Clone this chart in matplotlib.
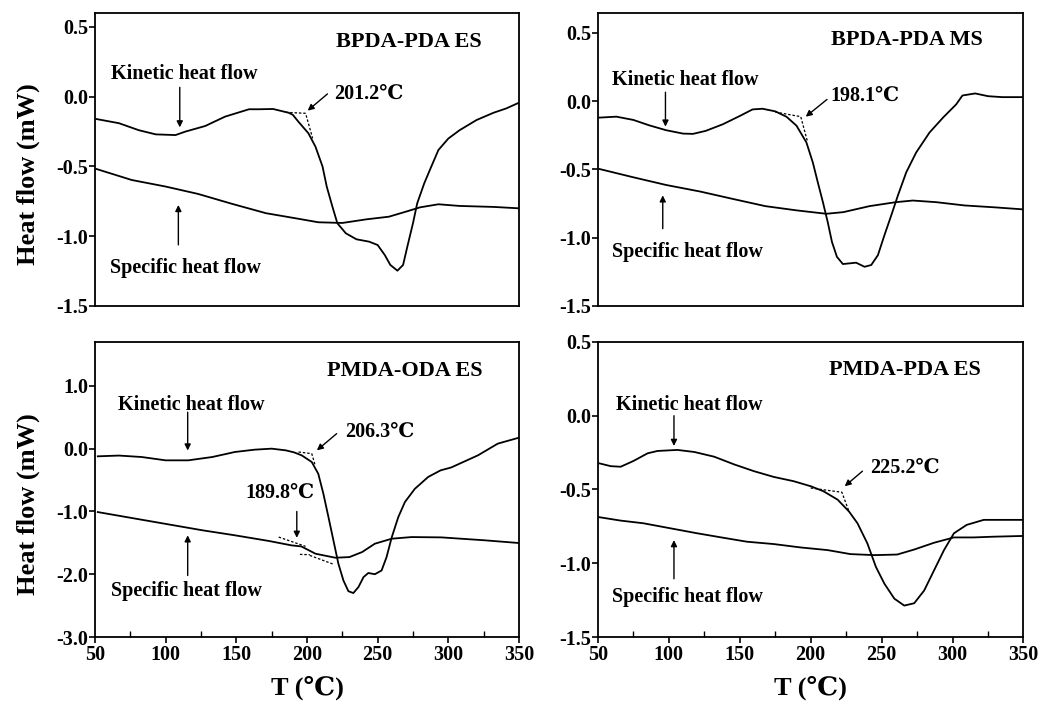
import matplotlib
matplotlib.use('Agg')
import matplotlib.pyplot as plt
from matplotlib.ticker import MultipleLocator, FixedLocator, FixedFormatter

plt.rcParams['font.family'] = ['Liberation Serif', 'DejaVu Serif', 'DejaVu Sans']
plt.rcParams['font.weight'] = 'bold'

# BPDA-PDA ES
a_kin_T = [51, 67, 81, 93, 107, 114, 128, 142, 159, 166, 176, 187, 190, 194, 201, 206, 211, 214,
           218, 221.5, 227.5, 235, 244, 250, 255, 259, 264, 268, 271, 275, 278, 283, 288, 293,
           300, 308, 320, 332, 341, 350]
a_kin = [-0.16, -0.19, -0.24, -0.27, -0.275, -0.25, -0.21, -0.143, -0.09, -0.09, -0.088, -0.115,
         -0.13, -0.18, -0.262, -0.358, -0.50, -0.645, -0.788, -0.907, -0.979, -1.022, -1.039,
         -1.063, -1.134, -1.206, -1.247, -1.206, -1.075, -0.907, -0.764, -0.62, -0.50, -0.382,
         -0.30, -0.24, -0.167, -0.115, -0.084, -0.043]
a_spec_T = [51, 76, 100, 123, 147, 171, 194, 208, 225, 242, 258, 270, 280, 293, 308, 332, 350]
a_spec = [-0.518, -0.597, -0.644, -0.697, -0.768, -0.835, -0.875, -0.90, -0.905, -0.879, -0.86,
          -0.824, -0.793, -0.771, -0.783, -0.79, -0.80]
a_tan_T = [185, 199, 204]
a_tan = [-0.112, -0.119, -0.298]

# BPDA-PDA MS
b_kin_T = [51, 63, 75, 86, 98, 110, 117, 126, 138, 150, 159, 166, 175, 183, 190, 197, 201.5,
           205, 208.6, 212, 215, 218.5, 222.7, 227.4, 232, 238, 242.7, 247.4, 252, 256.8, 261.5,
           267.4, 274.4, 283.8, 293.3, 302.6, 307, 316, 325, 335, 350]
b_kin = [-0.121, -0.114, -0.138, -0.177, -0.213, -0.238, -0.24, -0.218, -0.17, -0.109, -0.061,
         -0.056, -0.075, -0.115, -0.18, -0.303, -0.449, -0.594, -0.739, -0.885, -1.031, -1.14,
         -1.193, -1.188, -1.183, -1.213, -1.2, -1.128, -0.982, -0.837, -0.691, -0.521, -0.376,
         -0.23, -0.121, -0.024, 0.041, 0.056, 0.036, 0.029, 0.029]
b_spec_T = [51, 75, 98, 122, 145, 168, 190, 211, 223, 241.5, 260, 272, 288.5, 308.5, 330, 350]
b_spec = [-0.497, -0.558, -0.614, -0.662, -0.716, -0.769, -0.800, -0.825, -0.813, -0.769,
          -0.74, -0.728, -0.74, -0.764, -0.778, -0.793]
b_tan_T = [175, 193, 197.6]
b_tan = [-0.08, -0.114, -0.291]

# PMDA-ODA ES
c_kin_T = [52, 67, 83, 100, 116, 133, 149, 163, 175, 185, 191, 196.3, 203.4, 208, 211.6, 215.2,
           218.7, 222.2, 225.8, 229.3, 232.8, 236.4, 240, 243.4, 248, 252.8, 256.3, 260, 264.6,
           269.3, 276.3, 285.8, 294.6, 302, 321, 335, 350]
c_kin = [-0.122, -0.11, -0.133, -0.186, -0.186, -0.133, -0.053, -0.016, 0.0, -0.027, -0.06,
         -0.107, -0.213, -0.40, -0.717, -1.09, -1.46, -1.83, -2.10, -2.27, -2.30, -2.205,
         -2.046, -1.98, -2.00, -1.94, -1.727, -1.41, -1.09, -0.85, -0.64, -0.45, -0.345, -0.30,
         -0.106, 0.08, 0.175]
c_spec_T = [52, 79, 102, 126, 149, 173, 189, 196, 206, 220, 230, 239, 248, 260, 274, 295, 326,
            350]
c_spec = [-1.01, -1.116, -1.206, -1.30, -1.38, -1.47, -1.54, -1.557, -1.673, -1.737, -1.727,
          -1.647, -1.514, -1.434, -1.408, -1.413, -1.46, -1.503]
c_tan_T = [194, 203.4, 205.8]
c_tan = [-0.053, -0.08, -0.266]
c_base1_T = [180, 199]
c_base1 = [-1.408, -1.556]
c_base2_T = [195, 202]
c_base2 = [-1.684, -1.689]
c_base3_T = [202, 219]
c_base3 = [-1.70, -1.843]

# PMDA-PDA ES
d_kin_T = [51, 59, 66, 75, 85, 92, 106, 118, 132, 146, 160, 174, 188, 200, 209, 219, 227, 233,
           240, 246, 252, 259, 266, 273, 280, 287, 294, 301, 310, 322, 336, 350]
d_kin = [-0.323, -0.342, -0.346, -0.307, -0.255, -0.239, -0.232, -0.246, -0.278, -0.33,
         -0.376, -0.415, -0.444, -0.478, -0.512, -0.569, -0.649, -0.729, -0.866, -1.025,
         -1.139, -1.24, -1.287, -1.271, -1.185, -1.048, -0.911, -0.797, -0.74, -0.706, -0.706,
         -0.706]
d_spec_T = [51, 66, 82, 101, 120, 137, 155, 174, 193, 212, 228, 245, 261, 273, 287, 301, 315,
            329, 350]
d_spec = [-0.688, -0.711, -0.729, -0.763, -0.797, -0.825, -0.854, -0.87, -0.893, -0.911,
          -0.938, -0.945, -0.941, -0.907, -0.861, -0.825, -0.825, -0.82, -0.815]
d_tan_T = [200, 222, 227]
d_tan = [-0.49, -0.519, -0.649]

titles = ['BPDA-PDA ES', 'BPDA-PDA MS', 'PMDA-ODA ES', 'PMDA-PDA ES']
onset_labels = ['201.2℃', '198.1℃', '206.3℃', '225.2℃']
small_ticks = [0.5, 0.0, -0.5, -1.0, -1.5]
small_ticklabels = ['0.5', '0.0', '-0.5', '-1.0', '-1.5']
big_ticks = [1.0, 0.0, -1.0, -2.0, -3.0]
big_ticklabels = ['1.0', '0.0', '-1.0', '-2.0', '-3.0']
x_ticks = [50, 100, 150, 200, 250, 300, 350]

fig = plt.figure(figsize=(10.39, 7.06), dpi=100)

positions = [[0.0914, 0.5666, 0.4081, 0.4150],
             [0.5755, 0.5666, 0.4095, 0.4150],
             [0.0914, 0.0977, 0.4081, 0.4180],
             [0.5755, 0.0977, 0.4095, 0.4180]]
ylims = [(-1.5, 0.6), (-1.5, 0.645), (-3.0, 1.7), (-1.5, 0.5)]

kin = [(a_kin_T, a_kin), (b_kin_T, b_kin), (c_kin_T, c_kin), (d_kin_T, d_kin)]
spec = [(a_spec_T, a_spec), (b_spec_T, b_spec), (c_spec_T, c_spec), (d_spec_T, d_spec)]
tans = [[(a_tan_T, a_tan)], [(b_tan_T, b_tan)],
        [(c_tan_T, c_tan), (c_base1_T, c_base1), (c_base2_T, c_base2), (c_base3_T, c_base3)],
        [(d_tan_T, d_tan)]]

# label / arrow placement per panel (data coords)
title_pos = [(220.5, 0.394), (214, 0.449), (214, 1.24), (213, 0.307)]
onset_pos = [(219.5, 0.02), (214, 0.036), (227, 0.266), (242, -0.353)]
onset_arrow = [((214.5, 0.02), (200.5, -0.10)), ((211.5, 0.012), (196.5, -0.114)),
               ((221, 0.239), (207, -0.027)), ((236.5, -0.376), (224, -0.478))]
kin_text = [(113, 0.162), (111.5, 0.153), (118, 0.70), (114.7, 0.073)]
kin_arrow = [((110, 0.067), (110, -0.22)), ((97.6, 0.065), (97.6, -0.187)),
             ((115.6, 0.58), (115.6, -0.03)), ((103.6, 0.0), (103.6, -0.205))]
spec_text = [(114, -1.229), (113, -1.104), (115, -2.27), (113, -1.23)]
spec_arrow = [((109, -1.062), (109, -0.776)), ((95.7, -0.934), (95.7, -0.69)),
              ((115.6, -2.02), (115.6, -1.38)), ((103.6, -1.105), (103.6, -0.843))]

arrow_kw = dict(arrowstyle='-|>', color='k', lw=1.0, mutation_scale=9, shrinkA=0, shrinkB=0)

for i in range(4):
    ax = fig.add_axes(positions[i])
    ax.plot(kin[i][0], kin[i][1], color='k', lw=1.3)
    ax.plot(spec[i][0], spec[i][1], color='k', lw=1.3)
    for tx, ty in tans[i]:
        ax.plot(tx, ty, color='k', lw=0.9, dashes=(2, 1.5))

    ax.set_xlim(50, 350)
    ax.set_ylim(*ylims[i])
    if i == 2:
        ax.yaxis.set_major_locator(FixedLocator(big_ticks))
        ax.yaxis.set_major_formatter(FixedFormatter(big_ticklabels))
    else:
        ax.yaxis.set_major_locator(FixedLocator(small_ticks))
        ax.yaxis.set_major_formatter(FixedFormatter(small_ticklabels))

    for sp in ax.spines.values():
        sp.set_linewidth(1.3)
    ax.tick_params(axis='y', direction='out', length=4, width=1.2, labelsize=14.5, pad=1)

    if i >= 2:
        ax.set_xticks(x_ticks)
        ax.xaxis.set_minor_locator(MultipleLocator(25))
        ax.tick_params(axis='x', which='major', direction='out', length=4, width=1.2,
                       labelsize=14.5, pad=2)
        ax.tick_params(axis='x', which='minor', direction='in', length=4, width=1.0)
        ax.set_xlabel('T (℃)', fontsize=19, fontweight='bold')
        ax.xaxis.set_label_coords(0.5, -0.13)
    else:
        ax.set_xticks([])

    if i % 2 == 0:
        ax.set_ylabel('Heat flow (mW)', fontsize=19, fontweight='bold')
        ax.yaxis.set_label_coords(-0.13, 0.45)

    ax.text(title_pos[i][0], title_pos[i][1], titles[i], fontsize=16, fontweight='bold',
            ha='left', va='center')
    ax.text(onset_pos[i][0], onset_pos[i][1], onset_labels[i], fontsize=14.5,
            ha='left', va='center')
    ax.annotate('', xy=onset_arrow[i][1], xytext=onset_arrow[i][0], arrowprops=arrow_kw)
    ax.text(kin_text[i][0], kin_text[i][1], 'Kinetic heat flow', fontsize=14.5,
            ha='center', va='center')
    ax.annotate('', xy=kin_arrow[i][1], xytext=kin_arrow[i][0], arrowprops=arrow_kw)
    ax.text(spec_text[i][0], spec_text[i][1], 'Specific heat flow', fontsize=14.5,
            ha='center', va='center')
    ax.annotate('', xy=spec_arrow[i][1], xytext=spec_arrow[i][0], arrowprops=arrow_kw)

    if i == 2:
        ax.text(181, -0.707, '189.8℃', fontsize=14.5, ha='center', va='center')
        ax.annotate('', xy=(192.8, -1.42), xytext=(192.8, -1.0), arrowprops=arrow_kw)

fig.savefig('out.png', dpi=100)
